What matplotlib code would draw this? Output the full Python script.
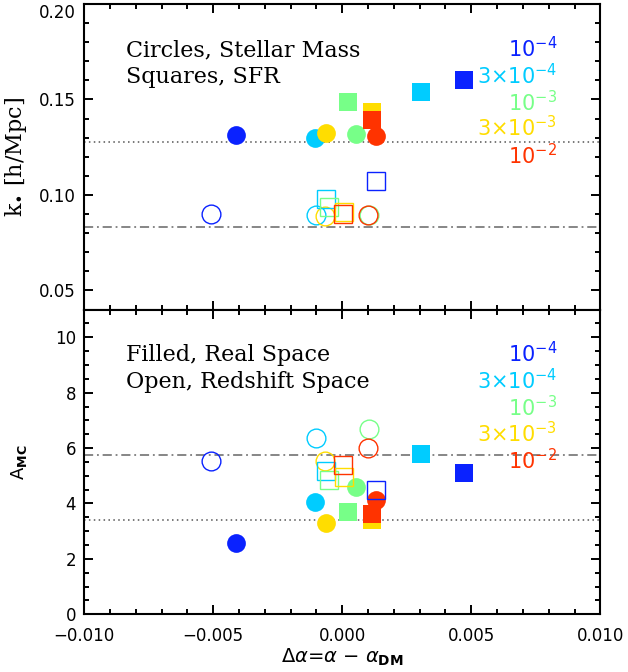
import matplotlib
matplotlib.use("Agg")
import matplotlib.pyplot as plt
from matplotlib.ticker import MultipleLocator, FuncFormatter

# Number-density samples (order: 1e-4, 3e-4, 1e-3, 3e-3, 1e-2)
density_labels = [r"$10^{-4}$", r"$3{\times}10^{-4}$", r"$10^{-3}$",
                  r"$3{\times}10^{-3}$", r"$10^{-2}$"]
colors = ["#0a22ff", "#00ccff", "#77ff88", "#ffdd00", "#ff3300"]

# Delta alpha for each sample
dalpha_mass_real = [-0.00412, -0.00107, 0.00053, -0.00065, 0.00129]
dalpha_sfr_real = [0.00471, 0.00304, 0.00021, 0.00115, 0.00115]
dalpha_mass_z = [-0.00507, -0.00100, 0.00104, -0.00067, 0.00100]
dalpha_sfr_z = [0.00132, -0.00065, -0.00053, 0.00007, 0.00004]

# k_* [h/Mpc]
kstar_mass_real = [0.1313, 0.1297, 0.1318, 0.1327, 0.1309]
kstar_sfr_real = [0.1601, 0.1540, 0.1488, 0.1435, 0.1392]
kstar_mass_z = [0.0899, 0.0895, 0.0893, 0.0890, 0.0893]
kstar_sfr_z = [0.1073, 0.0981, 0.0937, 0.0911, 0.0899]

# A_MC
amc_mass_real = [2.57, 4.06, 4.58, 3.29, 4.12]
amc_sfr_real = [5.10, 5.79, 3.69, 3.42, 3.62]
amc_mass_z = [5.52, 6.37, 6.69, 5.55, 6.01]
amc_sfr_z = [4.49, 5.19, 4.85, 4.97, 5.40]

# Dark-matter reference values (real space dotted, redshift space dash-dot)
kstar_dm_real, kstar_dm_z = 0.1278, 0.0832
amc_dm_real, amc_dm_z = 3.42, 5.75

fig = plt.figure(figsize=(6.28, 6.72), dpi=100)
L, W = 0.1342, 0.8217
ax_top = fig.add_axes([L, 0.5394, W, 0.4546])
ax_bot = fig.add_axes([L, 0.0858, W, 0.4536])

MS = 13.5
OPEN_LW = 1.0


def draw_points(ax, x_mr, y_mr, x_sr, y_sr, x_mz, y_mz, x_sz, y_sz):
    for x, y, c in zip(x_mr, y_mr, colors):
        ax.plot(x, y, "o", ms=MS, color=c, mec=c, mew=0, zorder=3)
    for x, y, c in zip(x_sr, y_sr, colors):
        ax.plot(x, y, "s", ms=MS * 0.95, color=c, mec=c, mew=0, zorder=3)
    for x, y, c in zip(x_mz, y_mz, colors):
        ax.plot(x, y, "o", ms=MS, mfc="none", mec=c, mew=OPEN_LW, zorder=4)
    for x, y, c in zip(x_sz, y_sz, colors):
        ax.plot(x, y, "s", ms=MS * 0.95, mfc="none", mec=c, mew=OPEN_LW, zorder=4)


draw_points(ax_top, dalpha_mass_real, kstar_mass_real, dalpha_sfr_real, kstar_sfr_real,
            dalpha_mass_z, kstar_mass_z, dalpha_sfr_z, kstar_sfr_z)
draw_points(ax_bot, dalpha_mass_real, amc_mass_real, dalpha_sfr_real, amc_sfr_real,
            dalpha_mass_z, amc_mass_z, dalpha_sfr_z, amc_sfr_z)

for ax, yr, yz in [(ax_top, kstar_dm_real, kstar_dm_z), (ax_bot, amc_dm_real, amc_dm_z)]:
    ax.axhline(yr, color="#555555", lw=1.1, ls=(0, (1, 2.2)), zorder=1)
    ax.axhline(yz, color="#666666", lw=1.1, ls=(0, (6, 2.5, 1.2, 2.5)), zorder=1)

# Axes ranges and ticks
for ax in (ax_top, ax_bot):
    ax.set_xlim(-0.010, 0.010)
    ax.xaxis.set_major_locator(MultipleLocator(0.005))
    ax.xaxis.set_minor_locator(MultipleLocator(0.001))
    ax.tick_params(which="both", direction="in", top=True, right=True,
                   width=1.4, labelsize=12, colors="black")
    ax.tick_params(which="major", length=6.5, pad=6)
    ax.tick_params(which="minor", length=3.6)
    for sp in ax.spines.values():
        sp.set_linewidth(1.5)

ax_top.set_ylim(0.04, 0.20)
ax_top.yaxis.set_major_locator(MultipleLocator(0.05))
ax_top.yaxis.set_minor_locator(MultipleLocator(0.01))
# the label at the very top edge is set separately so it sits inside the figure
ax_top.yaxis.set_major_formatter(
    FuncFormatter(lambda v, p: "" if v > 0.199 else "%.2f" % v))
ax_top.annotate("0.20", xy=(0, 0.20), xycoords=("axes fraction", "data"),
                xytext=(-6, 0), textcoords="offset points",
                ha="right", va="top", fontsize=12)
ax_top.tick_params(axis="x", labelbottom=False)

ax_bot.set_ylim(0, 11)
ax_bot.yaxis.set_major_locator(MultipleLocator(2))
ax_bot.yaxis.set_minor_locator(MultipleLocator(0.5))
ax_bot.yaxis.set_major_formatter(FuncFormatter(lambda v, p: "%d" % round(v)))
ax_bot.xaxis.set_major_formatter(
    FuncFormatter(lambda v, p: ("%.3f" % v).replace("-", "\u2212") if abs(v) > 1e-9 else "0.000"))
ax_bot.tick_params(axis="x", which="major", pad=9)

# Axis labels
ax_top.set_ylabel(r"k$_{\bullet}$ [h/Mpc]", fontsize=16, family="DejaVu Serif")
ax_top.yaxis.set_label_coords(-0.107, 0.5)
ax_bot.set_ylabel(r"A$_{\rm \mathbf{MC}}$", fontsize=13)
ax_bot.yaxis.set_label_coords(-0.107, 0.5)
ax_bot.set_xlabel(r"$\Delta\alpha$=$\alpha$ $-$ $\alpha_{\rm \mathbf{DM}}$", fontsize=14)
ax_bot.xaxis.set_label_coords(0.5, -0.105)

# Panel notes
note_kw = dict(fontsize=16, family="DejaVu Serif", va="center", ha="left")
ax_top.text(0.081, 0.849, "Circles, Stellar Mass", transform=ax_top.transAxes, **note_kw)
ax_top.text(0.081, 0.761, "Squares, SFR", transform=ax_top.transAxes, **note_kw)
ax_bot.text(0.081, 0.851, "Filled, Real Space", transform=ax_bot.transAxes, **note_kw)
ax_bot.text(0.081, 0.762, "Open, Redshift Space", transform=ax_bot.transAxes, **note_kw)

# Density key
key_y = [0.855, 0.767, 0.678, 0.594, 0.505]
for ax in (ax_top, ax_bot):
    for lab, c, yy in zip(density_labels, colors, key_y):
        ax.text(0.916, yy, lab, transform=ax.transAxes, color=c, fontsize=15,
                ha="right", va="center")

fig.savefig("out.png", dpi=100)
